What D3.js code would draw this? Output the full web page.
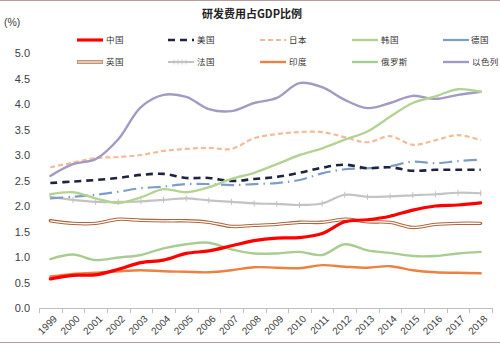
<!DOCTYPE html>
<html>
<head>
<meta charset="utf-8">
<script src="https://cdn.jsdelivr.net/npm/d3@7"></script>
<style>
  html, body { margin: 0; padding: 0; background: #fff; }
  svg { display: block; }
</style>
</head>
<body>
<div id="chart"></div>
<script>
// R&D expenditure as a share of GDP, 1999–2018
const years = ["1999","2000","2001","2002","2003","2004","2005","2006","2007","2008",
               "2009","2010","2011","2012","2013","2014","2015","2016","2017","2018"];

const china   = [0.57,0.64,0.65,0.76,0.89,0.94,1.07,1.12,1.22,1.32,1.37,1.38,1.46,1.69,1.73,1.80,1.92,2.00,2.02,2.06];
const usa     = [2.45,2.48,2.51,2.55,2.61,2.63,2.55,2.55,2.49,2.53,2.57,2.65,2.75,2.81,2.74,2.76,2.69,2.71,2.71,2.71];
const japan   = [2.76,2.85,2.94,2.96,3.00,3.08,3.12,3.14,3.12,3.33,3.41,3.45,3.45,3.35,3.25,3.37,3.20,3.29,3.39,3.29];
const korea   = [2.23,2.27,2.15,2.06,2.17,2.33,2.27,2.37,2.53,2.65,2.82,3.00,3.13,3.30,3.46,3.75,4.02,4.15,4.29,4.24];
const germany = [2.15,2.18,2.22,2.28,2.35,2.38,2.43,2.43,2.41,2.43,2.45,2.51,2.64,2.72,2.74,2.78,2.87,2.84,2.88,2.91];
const uk      = [1.71,1.66,1.66,1.74,1.72,1.71,1.71,1.68,1.60,1.62,1.64,1.68,1.68,1.74,1.69,1.68,1.58,1.64,1.66,1.66];
const france  = [2.18,2.12,2.08,2.08,2.09,2.12,2.15,2.11,2.08,2.05,2.04,2.02,2.05,2.22,2.18,2.19,2.21,2.23,2.26,2.25];
const india   = [0.62,0.67,0.69,0.72,0.74,0.72,0.71,0.70,0.74,0.80,0.79,0.78,0.84,0.81,0.79,0.82,0.74,0.70,0.69,0.68];
const russia  = [0.96,1.05,0.94,0.99,1.04,1.17,1.25,1.28,1.15,1.07,1.07,1.10,1.04,1.25,1.13,1.08,1.02,1.02,1.07,1.10];
const israel  = [2.59,2.82,2.92,3.31,3.94,4.18,4.14,3.90,3.86,4.02,4.12,4.41,4.33,4.08,3.92,4.02,4.16,4.10,4.18,4.24];

const yTicks = [0, 0.5, 1, 1.5, 2, 2.5, 3, 3.5, 4, 4.5, 5];

// series styling, in legend order
const series = [
  { name: "中国",   values: china,   color: "#FF0000", width: 3.2 },
  { name: "美国",   values: usa,     color: "#1F2340", width: 2.6, dash: "7,5" },
  { name: "日本",   values: japan,   color: "#F6BB96", width: 2.2, dash: "5,3" },
  { name: "韩国",   values: korea,   color: "#B3D393", width: 2.4 },
  { name: "德国",   values: germany, color: "#7F9CC8", width: 2.2, dash: "13,5,1.5,5" },
  { name: "英国",   values: uk,      color: "#B0643A", width: 3.4, hollow: true },
  { name: "法国",   values: france,  color: "#C3C3C3", width: 2.2, crosses: true },
  { name: "印度",   values: india,   color: "#EC8140", width: 2.4 },
  { name: "俄罗斯", values: russia,  color: "#A9CD90", width: 2.4 },
  { name: "以色列", values: israel,  color: "#A39AC3", width: 2.4 }
];

// drawing order: back to front
const drawOrder = ["法国","德国","美国","日本","以色列","韩国","英国","俄罗斯","印度","中国"];

const W = 500, H = 344;
const plotBottom = 308, plotTop = 53;

const svg = d3.select("#chart").append("svg")
  .attr("width", W).attr("height", H)
  .style("font-family", "'Liberation Sans', Arial, sans-serif");

// frame lines at top and bottom
svg.append("line").attr("x1", 0).attr("x2", W).attr("y1", 0.5).attr("y2", 0.5)
  .attr("stroke", "#B99C9C").attr("stroke-width", 1);
svg.append("line").attr("x1", 0).attr("x2", W).attr("y1", 342.5).attr("y2", 342.5)
  .attr("stroke", "#B99C9C").attr("stroke-width", 1);

const x = d3.scaleBand().domain(years).range([39, 492]);
const y = d3.scaleLinear().domain([0, 5]).range([plotBottom, plotTop]);

// title
svg.append("text")
  .attr("x", 252).attr("y", 18)
  .attr("text-anchor", "middle")
  .style("font-family", "'Noto Sans CJK SC', sans-serif")
  .style("font-weight", "bold")
  .style("font-size", "11px")
  .attr("fill", "#222")
  .text("研发费用占GDP比例");

// unit label
svg.append("text")
  .attr("x", 4).attr("y", 26)
  .style("font-size", "10.5px")
  .attr("fill", "#404040")
  .text("(%)");

// y axis: labels only
const yAxis = d3.axisLeft(y).tickValues(yTicks).tickFormat(d3.format(".1f")).tickSize(0).tickPadding(0);
const gy = svg.append("g").attr("transform", "translate(30,0)").call(yAxis);
gy.select(".domain").remove();
gy.selectAll("text").style("font-size", "11px").attr("fill", "#404040")
  .style("font-family", "'Liberation Sans', Arial, sans-serif");

// x axis with ticks on category boundaries
const gx = svg.append("g").attr("transform", `translate(0,${plotBottom})`);
gx.append("line").attr("x1", 39).attr("x2", 492).attr("y1", 0.5).attr("y2", 0.5)
  .attr("stroke", "#BFBFBF").attr("stroke-width", 1);
const boundaries = years.map(d => x(d)).concat([x.range()[1]]);
gx.selectAll("line.tick").data(boundaries).enter().append("line")
  .attr("class", "tick")
  .attr("x1", d => Math.round(d) + 0.5).attr("x2", d => Math.round(d) + 0.5)
  .attr("y1", 0).attr("y2", 5)
  .attr("stroke", "#BFBFBF");
gx.selectAll("text").data(years).enter().append("text")
  .attr("transform", d => `translate(${x(d) + x.bandwidth() / 2 + 5},${9}) rotate(-45)`)
  .attr("text-anchor", "end")
  .attr("dy", "0.35em")
  .style("font-size", "10px")
  .attr("fill", "#404040")
  .text(d => d);

// lines
const line = d3.line()
  .x((d, i) => x(years[i]) + x.bandwidth() / 2)
  .y(d => y(d))
  .curve(d3.curveCatmullRom.alpha(0.5));

const byName = Object.fromEntries(series.map(s => [s.name, s]));
const gLines = svg.append("g");
drawOrder.forEach(n => {
  const s = byName[n];
  const p = gLines.append("path")
    .attr("d", line(s.values))
    .attr("fill", "none")
    .attr("stroke", s.color)
    .attr("stroke-width", s.width)
    .attr("stroke-linejoin", "round")
    .attr("stroke-linecap", s.dash ? "butt" : "round");
  if (s.dash) p.attr("stroke-dasharray", s.dash);
  if (s.hollow) {
    gLines.append("path")
      .attr("d", line(s.values))
      .attr("fill", "none")
      .attr("stroke", "#fff")
      .attr("stroke-width", 1.3);
  }
  if (s.crosses) {
    gLines.selectAll(null).data(s.values).enter().append("line")
      .attr("x1", (d, i) => x(years[i]) + x.bandwidth() / 2)
      .attr("x2", (d, i) => x(years[i]) + x.bandwidth() / 2)
      .attr("y1", d => y(d) - 3).attr("y2", d => y(d) + 3)
      .attr("stroke", s.color).attr("stroke-width", 1);
  }
});

// legend
const legX = [77, 168, 260, 352, 443];
const legY = [40, 62];
const legend = svg.append("g")
  .style("font-family", "'Noto Sans CJK SC', sans-serif")
  .style("font-size", "8.5px");
series.forEach((s, i) => {
  const col = i % 5, row = Math.floor(i / 5);
  const g = legend.append("g").attr("transform", `translate(${legX[col]},${legY[row]})`);
  const len = 26;
  const l = g.append("line").attr("x1", 0).attr("x2", len).attr("y1", 0).attr("y2", 0)
    .attr("stroke", s.color).attr("stroke-width", s.width);
  if (s.dash) l.attr("stroke-dasharray", s.name === "德国" ? "26" : (s.name === "美国" ? "7,5" : "5,3"));
  if (s.hollow) {
    g.append("line").attr("x1", 0.5).attr("x2", len - 0.5).attr("y1", 0).attr("y2", 0)
      .attr("stroke", "#fff").attr("stroke-width", 1.3);
  }
  if (s.crosses) {
    [6, 10, 14, 18].forEach(cx => g.append("line")
      .attr("x1", cx).attr("x2", cx).attr("y1", -2.5).attr("y2", 2.5)
      .attr("stroke", s.color).attr("stroke-width", 0.8));
  }
  g.append("text")
    .attr("x", s.name === "德国" ? 28 : len + 3)
    .attr("y", 0).attr("dy", "0.35em")
    .attr("fill", "#333")
    .style("letter-spacing", "0.4px")
    .text(s.name);
});
</script>
</body>
</html>
